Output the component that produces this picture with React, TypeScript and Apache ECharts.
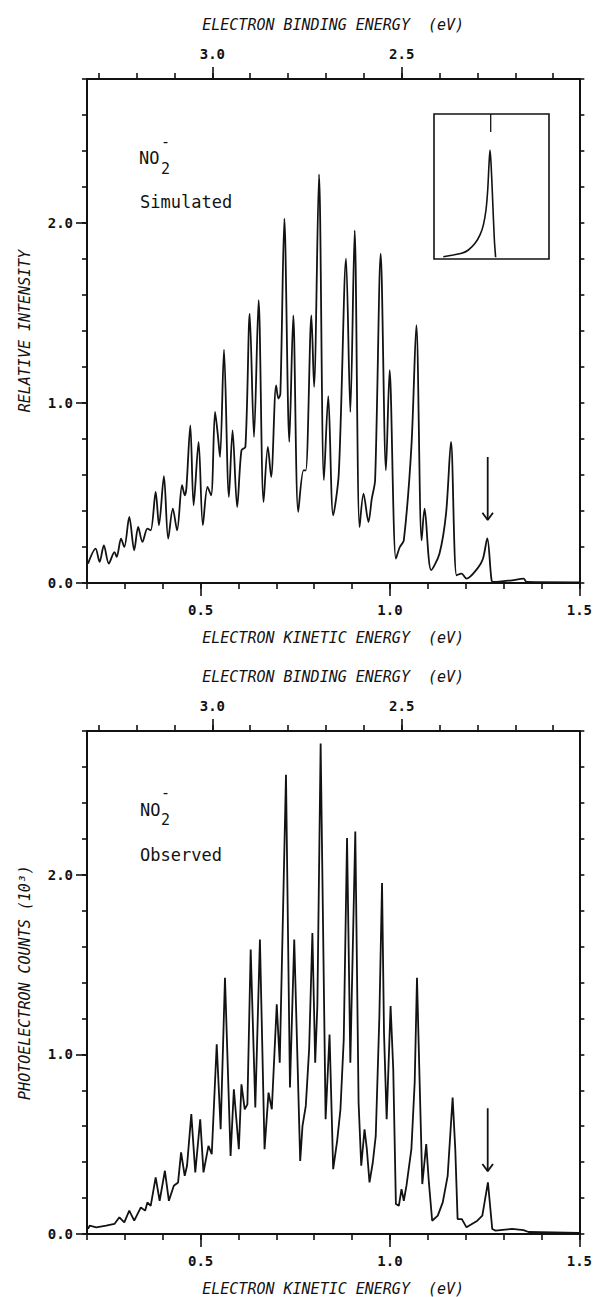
import React, { useEffect, useRef } from 'react';
import * as echarts from 'echarts';

// ---- data ----
const PHOTON_ENERGY = 3.531; // eV, binding = hv - kinetic
const KE_TICKS = [0.2, 0.3, 0.4, 0.5, 0.6, 0.7, 0.8, 0.9, 1.0, 1.1, 1.2, 1.3, 1.4, 1.5];
const KE_LABELS = [0.5, 1.0, 1.5];
const BE_TICKS = [3.3, 3.2, 3.1, 3.0, 2.9, 2.8, 2.7, 2.6, 2.5, 2.4, 2.3, 2.2, 2.1];
const BE_LABELS = [3.0, 2.5];
const Y_LABELS = [0, 1, 2];

const SIMULATED: [number, number][] = [
  [0.2027, 0.108], [0.2227, 0.191], [0.2332, 0.117], [0.2445, 0.209], [0.2576, 0.108], [0.2724, 0.172],
  [0.2785, 0.145], [0.2898, 0.246], [0.2985, 0.2], [0.3116, 0.367], [0.3247, 0.182], [0.3351, 0.311],
  [0.3464, 0.228], [0.3595, 0.302], [0.3682, 0.293], [0.3813, 0.506], [0.39, 0.321], [0.4031, 0.593],
  [0.4144, 0.246], [0.4266, 0.413], [0.4379, 0.293], [0.451, 0.543], [0.458, 0.487], [0.4623, 0.524],
  [0.4728, 0.876], [0.4815, 0.432], [0.4946, 0.784], [0.5059, 0.321], [0.5181, 0.534], [0.5277, 0.487],
  [0.5381, 0.95], [0.5451, 0.83], [0.5512, 0.7], [0.5617, 1.296], [0.5747, 0.478], [0.5843, 0.848],
  [0.5965, 0.422], [0.6078, 0.737], [0.6183, 0.756], [0.6296, 1.497], [0.6409, 0.811], [0.6531, 1.571],
  [0.6662, 0.45], [0.6775, 0.756], [0.6862, 0.589], [0.6993, 1.098], [0.7054, 1.024], [0.7106, 1.052],
  [0.7211, 2.024], [0.7342, 0.784], [0.7446, 1.487], [0.7577, 0.395], [0.7716, 0.626], [0.7777, 0.626],
  [0.7925, 1.487], [0.7995, 1.089], [0.8126, 2.27], [0.8256, 0.571], [0.837, 1.038], [0.85, 0.376],
  [0.8648, 0.608], [0.884, 1.802], [0.8953, 0.95], [0.9067, 1.959], [0.9197, 0.311], [0.9302, 0.497],
  [0.9432, 0.339], [0.952, 0.469], [0.9607, 0.571], [0.9755, 1.83], [0.9894, 0.626], [0.999, 1.182],
  [1.0156, 0.135], [1.026, 0.2], [1.0365, 0.237], [1.0565, 0.756], [1.0696, 1.432], [1.0835, 0.237],
  [1.0913, 0.413], [1.1088, 0.071], [1.1306, 0.163], [1.148, 0.385], [1.161, 0.784], [1.1759, 0.043],
  [1.189, 0.052], [1.202, 0.024], [1.2307, 0.08], [1.2455, 0.135], [1.2569, 0.248], [1.2682, 0.015],
  [1.274, 0.006], [1.3222, 0.015], [1.3527, 0.024], [1.361, 0.006], [1.5, 0.004],
];

const OBSERVED: [number, number][] = [
  [0.2027, 0.028], [0.207, 0.046], [0.2245, 0.037], [0.2506, 0.046], [0.2724, 0.056], [0.2855, 0.093],
  [0.2985, 0.065], [0.3116, 0.13], [0.3247, 0.074], [0.3421, 0.148], [0.3534, 0.13], [0.3595, 0.176],
  [0.3682, 0.157], [0.3813, 0.315], [0.3918, 0.185], [0.4057, 0.352], [0.4162, 0.185], [0.4292, 0.269],
  [0.4405, 0.287], [0.4484, 0.454], [0.458, 0.324], [0.4641, 0.38], [0.4754, 0.667], [0.4859, 0.343],
  [0.4989, 0.639], [0.5076, 0.343], [0.5207, 0.491], [0.5294, 0.444], [0.5425, 1.056], [0.5529, 0.583],
  [0.5643, 1.426], [0.5791, 0.435], [0.5878, 0.806], [0.6009, 0.472], [0.6078, 0.833], [0.6165, 0.694],
  [0.6235, 0.722], [0.6322, 1.583], [0.6444, 0.704], [0.6566, 1.639], [0.6688, 0.472], [0.6793, 0.787],
  [0.688, 0.694], [0.701, 1.278], [0.7089, 0.954], [0.7254, 2.556], [0.7359, 0.815], [0.7472, 1.639],
  [0.7629, 0.407], [0.769, 0.602], [0.7777, 0.713], [0.7865, 1.028], [0.7951, 1.676], [0.8025, 0.954],
  [0.8082, 1.269], [0.8169, 2.73], [0.83, 0.639], [0.8404, 1.111], [0.85, 0.361], [0.8605, 0.519],
  [0.8692, 0.694], [0.8779, 1.083], [0.8866, 2.204], [0.8953, 0.954], [0.9084, 2.241], [0.9171, 0.731],
  [0.9241, 0.38], [0.9328, 0.583], [0.9389, 0.472], [0.9459, 0.287], [0.9546, 0.398], [0.9624, 0.546],
  [0.972, 1.213], [0.979, 1.954], [0.9842, 1.12], [0.9912, 0.639], [1.0016, 1.269], [1.0086, 0.917],
  [1.0156, 0.167], [1.0234, 0.157], [1.0304, 0.25], [1.0365, 0.185], [1.0435, 0.269], [1.0565, 0.472],
  [1.0652, 0.843], [1.0713, 1.426], [1.0783, 0.843], [1.0853, 0.278], [1.0957, 0.5], [1.1027, 0.287],
  [1.1114, 0.074], [1.1262, 0.102], [1.1393, 0.176], [1.1523, 0.324], [1.1654, 0.759], [1.1724, 0.472],
  [1.1785, 0.083], [1.1898, 0.083], [1.202, 0.037], [1.2307, 0.074], [1.2438, 0.102], [1.2586, 0.287],
  [1.27, 0.028], [1.2787, 0.019], [1.3222, 0.028], [1.3527, 0.022], [1.3658, 0.011], [1.499, 0.006],
];

// inset: origin band profile (arbitrary units 0..100)
const INSET_PROFILE: [number, number][] = [
  [8.1, 1.6], [16.8, 2.8], [24.1, 3.9], [29.9, 6.2], [35.7, 10.8], [40, 16.6], [42.9, 23.4],
  [45.2, 33.8], [46.7, 47.6], [47.8, 64.8], [48.7, 75.2], [49.6, 66], [51, 40.7], [52.5, 13.1], [53.6, 1.2],
];
const INSET_MARKER: [number, number][] = [[49.3, 87.6], [49.3, 100]];

// arrow marking the origin band
const ARROW_KE = 1.258;
const ARROW_TOP = 0.7;
const ARROW_TIP = 0.35;
const ARROW_HEAD_DX = 0.014;
const ARROW_HEAD_DY = 0.04;

const INK = '#121212';
const FONT = "'DejaVu Sans Mono', monospace";

function panelAxes(g: number, yName: string) {
  const beTickVals = BE_TICKS.map((b) => PHOTON_ENERGY - b);
  const beLabelVals = BE_LABELS.map((b) => PHOTON_ENERGY - b);
  const base = { gridIndex: g, type: 'value', min: 0.2, max: 1.5, splitLine: { show: false } };
  const line = { show: true, onZero: false, lineStyle: { color: INK, width: 2 } };
  const noLine = { show: false, onZero: false };
  const tickLabel = { color: INK, fontFamily: FONT, fontSize: 14, fontWeight: 'bold' };
  const title = { color: INK, fontFamily: FONT, fontSize: 15, fontStyle: 'italic' };
  const xAxes = [
    {
      ...base, position: 'bottom', axisLine: line,
      axisTick: { show: true, customValues: KE_TICKS, length: 6, lineStyle: { color: INK, width: 1.6 } },
      axisLabel: { show: false },
    },
    {
      ...base, position: 'bottom', axisLine: noLine,
      axisTick: { show: true, customValues: KE_LABELS, length: 13, lineStyle: { color: INK, width: 1.6 } },
      axisLabel: { show: true, customValues: KE_LABELS, margin: 20, ...tickLabel, formatter: (v: number) => v.toFixed(1) },
      name: 'ELECTRON KINETIC ENERGY  (eV)', nameLocation: 'middle', nameGap: 47, nameTextStyle: title,
    },
    {
      ...base, position: 'top', axisLine: line,
      axisTick: { show: true, customValues: beTickVals, length: 6, lineStyle: { color: INK, width: 1.6 } },
      axisLabel: { show: false },
    },
    {
      ...base, position: 'top', axisLine: noLine,
      axisTick: { show: true, customValues: beLabelVals, length: 12, lineStyle: { color: INK, width: 1.6 } },
      axisLabel: {
        show: true, customValues: beLabelVals, margin: 18, ...tickLabel,
        formatter: (v: number) => (PHOTON_ENERGY - v).toFixed(1),
      },
      name: 'ELECTRON BINDING ENERGY  (eV)', nameLocation: 'middle', nameGap: 47, nameTextStyle: title,
    },
  ];
  const ybase = { gridIndex: g, type: 'value', min: 0, max: 2.8, splitLine: { show: false } };
  const yAxes = [
    {
      ...ybase, position: 'left', interval: 0.2, axisLine: line,
      axisTick: { show: true, length: 5, lineStyle: { color: INK, width: 1.6 } },
      axisLabel: { show: false },
    },
    {
      ...ybase, position: 'left', axisLine: noLine,
      axisTick: { show: true, customValues: Y_LABELS, length: 11, lineStyle: { color: INK, width: 1.6 } },
      axisLabel: { show: true, customValues: Y_LABELS, margin: 14, ...tickLabel, formatter: (v: number) => v.toFixed(1) },
      name: yName, nameLocation: 'middle', nameGap: 55, nameRotate: 90, nameTextStyle: title,
    },
    {
      ...ybase, position: 'right', interval: 0.2, axisLine: line,
      axisTick: { show: true, length: 5, lineStyle: { color: INK, width: 1.6 } },
      axisLabel: { show: false },
    },
  ];
  return { xAxes, yAxes };
}

function spectrumSeries(data: [number, number][], xi: number, yi: number, smooth: number) {
  const common = { type: 'line', xAxisIndex: xi, yAxisIndex: yi, symbol: 'none', silent: true };
  return [
    { ...common, data, smooth, lineStyle: { color: INK, width: 1.8 } },
    { ...common, data: [[ARROW_KE, ARROW_TOP], [ARROW_KE, ARROW_TIP]], lineStyle: { color: INK, width: 1.8 } },
    {
      ...common,
      data: [
        [ARROW_KE - ARROW_HEAD_DX, ARROW_TIP + ARROW_HEAD_DY],
        [ARROW_KE, ARROW_TIP],
        [ARROW_KE + ARROW_HEAD_DX, ARROW_TIP + ARROW_HEAD_DY],
      ],
      lineStyle: { color: INK, width: 1.8 },
    },
  ];
}

function label(x: number, y: number, text: string, size: number) {
  return {
    type: 'text', x, y,
    style: { text, fill: INK, font: `${size}px ${FONT}`, textVerticalAlign: 'middle', verticalAlign: 'middle' },
  };
}

export default function App() {
  const ref = useRef<HTMLDivElement>(null);
  useEffect(() => {
    document.body.style.margin = '0';
    if (!ref.current) return;
    const chart = echarts.init(ref.current, null, { renderer: 'svg' });
    const top = panelAxes(0, 'RELATIVE INTENSITY');
    const bot = panelAxes(1, 'PHOTOELECTRON COUNTS (10³)');
    const insetX = { gridIndex: 2, type: 'value', min: 0, max: 100, show: false };
    const insetY = { gridIndex: 2, type: 'value', min: 0, max: 100, show: false };
    const option: any = {
      animation: false,
      backgroundColor: '#ffffff',
      grid: [
        { left: 87, top: 79, width: 498, height: 504 },
        { left: 87, top: 731, width: 498, height: 504 },
        { left: 434, top: 114, width: 115, height: 145, show: true, borderColor: INK, borderWidth: 1.6 },
      ],
      xAxis: [...top.xAxes, ...bot.xAxes, insetX],
      yAxis: [...top.yAxes, ...bot.yAxes, insetY],
      series: [
        ...spectrumSeries(SIMULATED, 0, 0, 0.3),
        ...spectrumSeries(OBSERVED, 4, 3, 0),
        {
          type: 'line', xAxisIndex: 8, yAxisIndex: 6, symbol: 'none', silent: true, smooth: 0.3,
          data: INSET_PROFILE, lineStyle: { color: INK, width: 1.6 },
        },
        {
          type: 'line', xAxisIndex: 8, yAxisIndex: 6, symbol: 'none', silent: true,
          data: INSET_MARKER, lineStyle: { color: INK, width: 1.3 },
        },
      ],
      graphic: [
        label(139, 158, 'NO', 17),
        label(161, 169, '2', 15),
        label(161, 142, '-', 15),
        label(140, 202, 'Simulated', 17),
        label(140, 810, 'NO', 17),
        label(161, 820, '2', 15),
        label(161, 793, '-', 15),
        label(140, 855, 'Observed', 17),
      ],
    };
    chart.setOption(option);
    return () => chart.dispose();
  }, []);
  return <div ref={ref} style={{ width: 595, height: 1297 }} />;
}
